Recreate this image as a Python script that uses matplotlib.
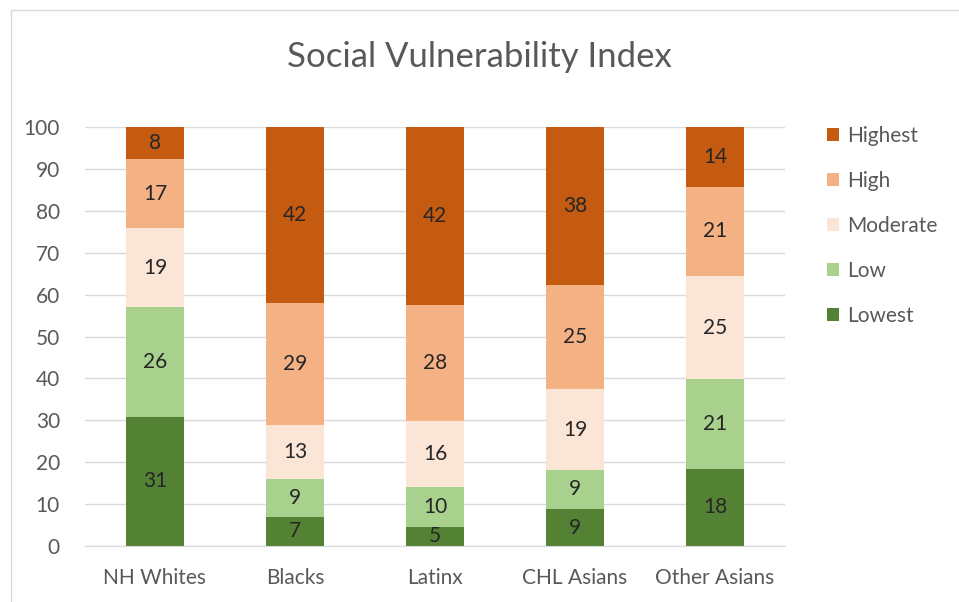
import matplotlib.pyplot as plt
from matplotlib.patches import Patch, Rectangle
import numpy as np

# groups and SVI category shares (percent)
groups = ["NH Whites", "Blacks", "Latinx", "CHL Asians", "Other Asians"]
levels = ["Lowest", "Low", "Moderate", "High", "Highest"]
lowest = [30.8, 7.0, 4.6, 8.8, 18.4]
low = [26.2, 9.0, 9.6, 9.4, 21.4]
moderate = [18.8, 12.9, 15.6, 19.2, 24.6]
high = [16.6, 29.0, 27.8, 24.8, 21.4]
highest = [7.6, 42.1, 42.4, 37.8, 14.2]
labels = {
    "Lowest": [31, 7, 5, 9, 18],
    "Low": [26, 9, 10, 9, 21],
    "Moderate": [19, 13, 16, 19, 25],
    "High": [17, 29, 28, 25, 21],
    "Highest": [8, 42, 42, 38, 14],
}
colors = {
    "Lowest": "#548235",
    "Low": "#A9D18E",
    "Moderate": "#FBE5D6",
    "High": "#F4B183",
    "Highest": "#C55A11",
}

plt.rcParams["font.family"] = ["Lato", "DejaVu Sans"]
text_col = "#595959"

fig = plt.figure(figsize=(9.59, 6.02), dpi=100)
ax = fig.add_axes([0.0886, 0.093, 0.730, 0.696])

x = np.arange(len(groups))
series = dict(zip(levels, [lowest, low, moderate, high, highest]))
bottom = np.zeros(len(groups))
for lvl in levels:
    vals = np.array(series[lvl])
    ax.bar(x, vals, 0.41, bottom=bottom, color=colors[lvl], zorder=2)
    for xi, b, v, lab in zip(x, bottom, vals, labels[lvl]):
        ax.text(xi, b + v / 2, str(lab), ha="center", va="center",
                fontsize=15, color="#262626", zorder=3)
    bottom += vals

ax.set_xlim(-0.5, len(groups) - 0.5)
ax.set_ylim(0, 100)
ax.set_yticks(range(0, 101, 10))
ax.set_xticks(x)
ax.set_xticklabels(groups)
ax.tick_params(axis="both", length=0, labelsize=15, labelcolor=text_col)
ax.tick_params(axis="y", pad=18)
ax.tick_params(axis="x", pad=16)
ax.grid(axis="y", color="#D9D9D9", linewidth=1, zorder=0)
for s in ["top", "right", "left"]:
    ax.spines[s].set_visible(False)
ax.spines["bottom"].set_color("#D9D9D9")

fig.text(0.5, 0.905, "Social Vulnerability Index", ha="center", va="center",
         fontsize=25, color=text_col)

handles = [Patch(facecolor=colors[l]) for l in reversed(levels)]
fig.legend(handles, list(reversed(levels)), loc="upper left",
           bbox_to_anchor=(0.843, 0.822), frameon=False, fontsize=15,
           labelcolor=text_col, handlelength=0.55, handleheight=0.55,
           handletextpad=0.4, labelspacing=1.2)

# chart border
fig.patches.append(Rectangle((0.011, -0.01), 1.0, 0.993, transform=fig.transFigure,
                             fill=False, edgecolor="#D9D9D9", linewidth=1))

fig.savefig("out.png", dpi=100)
